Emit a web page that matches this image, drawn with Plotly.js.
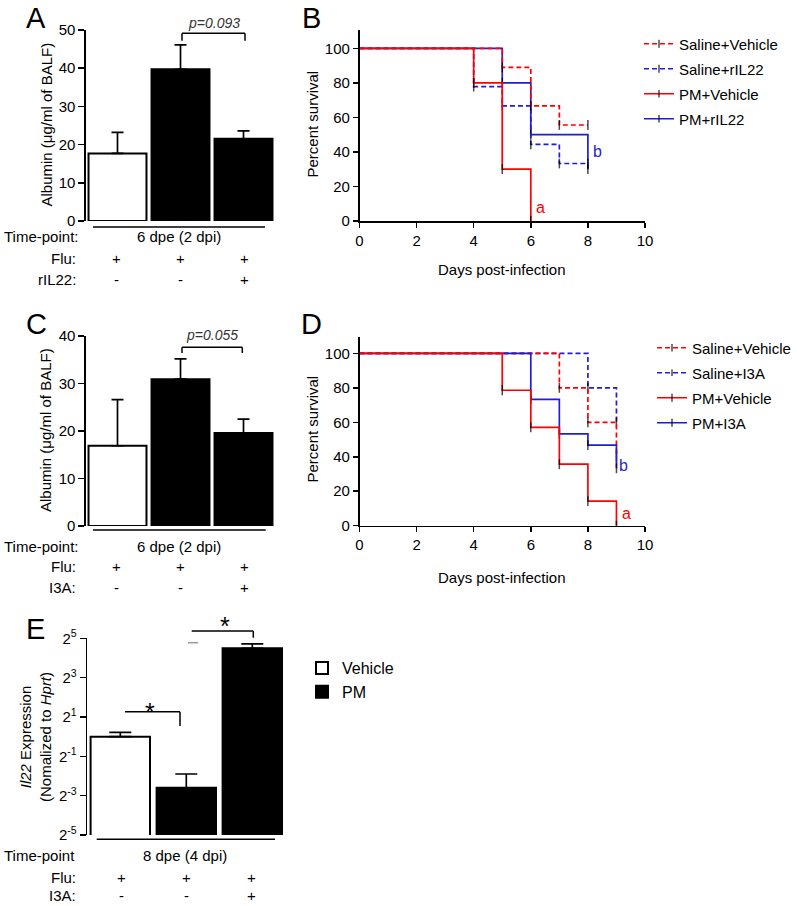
<!DOCTYPE html>
<html><head><meta charset="utf-8">
<script src="https://cdn.plot.ly/plotly-3.0.1.min.js"></script>
<style>html,body{margin:0;padding:0;background:#fff}#chart{width:797px;height:906px}</style>
</head><body><div id="chart"></div>
<script>
// ---------- DATA ----------
const groups = ['Flu', 'Flu+PM', 'Flu+PM+Tx'];
const fillGroup = ['Vehicle', 'PM', 'PM'];

// Panel A: albumin (µg/ml of BALF)
const albuminA = [17.7, 39.7, 21.5];
const albuminAErr = [5.5, 6.4, 2.1];
// Panel C
const albuminC = [16.9, 30.9, 19.6];
const albuminCErr = [9.7, 4.3, 2.9];
// Panel E: Il22 expression
const il22E = [1.0, 0.165, 22.5];
const il22EErr = [0.165, 0.103, 3.7];

// Panel B survival
const bSalVehDays = [0, 5, 6, 7, 8];       const bSalVehSurv = [100, 88.9, 66.7, 55.6, 55.6];
const bSalIlDays  = [0, 4, 5, 6, 7, 8];    const bSalIlSurv  = [100, 77.8, 66.7, 44.4, 33.3, 33.3];
const bPmVehDays  = [0, 4, 5, 6];          const bPmVehSurv  = [100, 80, 30, 0];
const bPmIlDays   = [0, 5, 6, 8];          const bPmIlSurv   = [100, 80, 50, 30];
// Panel D survival
const dSalVehDays = [0, 7, 8, 9];          const dSalVehSurv = [100, 80, 60, 40];
const dSalI3Days  = [0, 8, 9];             const dSalI3Surv  = [100, 80, 60];
const dPmVehDays  = [0, 5, 6, 7, 8, 9];    const dPmVehSurv  = [100, 78.6, 57.1, 35.7, 14.3, 0];
const dPmI3Days   = [0, 6, 7, 8, 9];       const dPmI3Surv   = [100, 73.3, 53.3, 46.7, 33.3];

const survivalTicks = [0, 20, 40, 60, 80, 100];
const dayTicks = [0, 2, 4, 6, 8, 10];
const log2Ticks = [-5, -3, -1, 1, 3, 5];

// ---------- HELPERS ----------
const W = 797, H = 906;
const X = p => p / W, Y = p => 1 - p / H;
const RED = '#ff0000', BLUE = '#1f1fd0';
const FONT = 'Liberation Sans, Arial, sans-serif';

function barPair(vals, errs, xa, ya, legendName, showLeg, width, capW) {
  const out = [];
  ['Vehicle', 'PM'].forEach(g => {
    const xs = [], ys = [], es = [];
    groups.forEach((c, i) => { if (fillGroup[i] === g) { xs.push(c); ys.push(vals[i]); es.push(errs[i]); } });
    out.push({
      type: 'bar', name: g, x: xs, y: ys, xaxis: xa, yaxis: ya, width: width,
      marker: { color: g === 'Vehicle' ? '#ffffff' : '#000000', line: { color: '#000', width: 2 } },
      error_y: { type: 'data', symmetric: false, array: es, arrayminus: es.map(() => 0), color: '#000', thickness: 1.7, width: capW },
      showlegend: showLeg, legend: legendName, hoverinfo: 'skip'
    });
  });
  return out;
}

function surv(name, xs, ys, color, dash, xa, ya, leg, grp, rank) {
  return {
    type: 'scatter', mode: 'lines+markers', name: name, x: xs, y: ys, xaxis: xa, yaxis: ya,
    line: { color: color, width: 1.7, dash: dash, shape: 'hv' },
    marker: { symbol: 'line-ns', size: xs.map((v, i) => i === 0 ? 0 : 7), color: '#000', line: { color: '#000', width: 1.5 } },
    legend: leg, legendgroup: grp, legendrank: rank, hoverinfo: 'skip'
  };
}

const DASH = '5px,3px';
const traces = [
  ...barPair(albuminA, albuminAErr, 'x', 'y', 'legend3', false, 0.92, 6),
  ...barPair(albuminC, albuminCErr, 'x3', 'y3', 'legend3', false, 0.92, 6),
  ...barPair(il22E, il22EErr, 'x5', 'y5', 'legend3', true, 0.9, 11),
  // panel B (drawing order bottom -> top)
  surv('PM+rIL22', bPmIlDays, bPmIlSurv, BLUE, 'solid', 'x2', 'y2', 'legend', 'b4', 4),
  surv('Saline+rIL22', bSalIlDays, bSalIlSurv, BLUE, DASH, 'x2', 'y2', 'legend', 'b2', 2),
  surv('Saline+Vehicle', bSalVehDays, bSalVehSurv, RED, DASH, 'x2', 'y2', 'legend', 'b1', 1),
  surv('PM+Vehicle', bPmVehDays, bPmVehSurv, RED, 'solid', 'x2', 'y2', 'legend', 'b3', 3),
  // panel D
  surv('Saline+I3A', dSalI3Days, dSalI3Surv, BLUE, DASH, 'x4', 'y4', 'legend2', 'd2', 2),
  surv('Saline+Vehicle', dSalVehDays, dSalVehSurv, RED, DASH, 'x4', 'y4', 'legend2', 'd1', 1),
  surv('PM+I3A', dPmI3Days, dPmI3Surv, BLUE, 'solid', 'x4', 'y4', 'legend2', 'd4', 4),
  surv('PM+Vehicle', dPmVehDays, dPmVehSurv, RED, 'solid', 'x4', 'y4', 'legend2', 'd3', 3)
];

const axBase = {
  showgrid: false, zeroline: false, showline: true, linecolor: '#000', linewidth: 1.6,
  ticks: 'outside', ticklen: 6, tickwidth: 1.5, tickcolor: '#000',
  tickfont: { size: 15, color: '#000', family: FONT }, fixedrange: true
};
const catAx = (dom, anchor) => ({ domain: dom, anchor: anchor, type: 'category', categoryorder: 'array', categoryarray: groups, range: [-0.5, 2.5], visible: false, fixedrange: true });

const layout = {
  width: W, height: H, margin: { l: 0, r: 0, t: 0, b: 0 },
  paper_bgcolor: '#fff', plot_bgcolor: 'rgba(0,0,0,0)',
  font: { family: FONT, size: 15, color: '#000' },
  barmode: 'overlay',
  xaxis: catAx([X(86), X(275)], 'y'),
  yaxis: Object.assign({}, axBase, { domain: [Y(221), Y(30)], anchor: 'x', range: [0, 50], dtick: 10 }),
  xaxis3: catAx([X(86), X(275)], 'y3'),
  yaxis3: Object.assign({}, axBase, { domain: [Y(526), Y(336)], anchor: 'x3', range: [0, 40], dtick: 10 }),
  xaxis2: Object.assign({}, axBase, { domain: [X(359.5), X(645)], anchor: 'y2', range: [0, 10], tickvals: dayTicks, ticklen: 5 }),
  yaxis2: Object.assign({}, axBase, { domain: [Y(221), Y(30)], anchor: 'x2', range: [0, 110.6], tickvals: survivalTicks, ticklen: 5 }),
  xaxis4: Object.assign({}, axBase, { domain: [X(359.5), X(645)], anchor: 'y4', range: [0, 10], tickvals: dayTicks, ticklen: 5 }),
  yaxis4: Object.assign({}, axBase, { domain: [Y(525.7), Y(337)], anchor: 'x4', range: [0, 109.5], tickvals: survivalTicks, ticklen: 5 }),
  xaxis5: catAx([X(87.3), X(285.3)], 'y5'),
  yaxis5: Object.assign({}, axBase, {
    domain: [Y(835), Y(638.3)], anchor: 'x5', type: 'log',
    range: [Math.log10(Math.pow(2, -5)), Math.log10(Math.pow(2, 5))],
    tickvals: log2Ticks.map(k => Math.pow(2, k)), ticktext: log2Ticks.map(k => '2<sup>' + k + '</sup>')
  }),
  legend: { x: X(639), y: Y(27.5), xanchor: 'left', yanchor: 'top', font: { size: 15 }, bgcolor: 'rgba(0,0,0,0)', traceorder: 'grouped', tracegroupgap: 2.5 },
  legend2: { x: X(652), y: Y(331.5), xanchor: 'left', yanchor: 'top', font: { size: 15 }, bgcolor: 'rgba(0,0,0,0)', traceorder: 'grouped', tracegroupgap: 2.5 },
  legend3: { x: X(302), y: Y(651), xanchor: 'left', yanchor: 'top', font: { size: 16 }, bgcolor: 'rgba(0,0,0,0)' },
  annotations: [],
  shapes: []
};

function ann(text, x, y, o) {
  layout.annotations.push(Object.assign({ text: text, x: X(x), y: Y(y), xref: 'paper', yref: 'paper', showarrow: false, xanchor: 'center', yanchor: 'middle', font: { size: 15, color: '#000', family: FONT } }, o || {}));
}
function seg(x0, y0, x1, y1, color) {
  layout.shapes.push({ type: 'line', xref: 'paper', yref: 'paper', x0: X(x0), y0: Y(y0), x1: X(x1), y1: Y(y1), line: { color: color || '#000', width: 1.5 } });
}

// panel letters
[['A', 36, 0], ['B', 311, 0], ['C', 36, 306], ['D', 311, 306], ['E', 35, 611]].forEach(a => ann(a[0], a[1], a[2], { yanchor: 'top', font: { size: 29, family: FONT } }));

// axis titles
ann('Albumin (μg/ml of BALF)', 45.5, 125, { textangle: -90 });
ann('Albumin (μg/ml of BALF)', 45, 430, { textangle: -90 });
ann('Percent survival', 311.5, 124, { textangle: -90 });
ann('Percent survival', 311.5, 429, { textangle: -90 });
ann('Days post-infection', 502, 269, {});
ann('Days post-infection', 502, 577, {});
ann('<i>Il22</i> Expression<br>(Nomalized to <i>Hprt</i>)', 35, 737, { textangle: -90 });

// p-values and brackets
ann('<i>p=0.093</i>', 214, 23, { font: { size: 14, color: '#333', family: FONT } });
seg(182, 33.3, 245, 33.3); seg(182, 33.3, 182, 40.7); seg(245, 33.3, 245, 40.7);
ann('<i>p=0.055</i>', 212, 335, { font: { size: 14, color: '#333', family: FONT } });
seg(182, 347.3, 242.3, 347.3); seg(182, 347.3, 182, 353); seg(242.3, 347.3, 242.3, 353);
seg(125, 711.7, 180, 711.7); seg(180, 711.7, 180, 726);
ann('*', 150, 712, { font: { size: 25, family: FONT } });
seg(191.7, 631, 253.3, 631); seg(253.3, 631, 253.3, 637.7);
seg(188, 642.7, 198, 642.7, '#999');
ann('*', 225, 626, { font: { size: 25, family: FONT } });

// survival significance letters
layout.annotations.push({ text: 'a', x: 6.35, y: 8, xref: 'x2', yref: 'y2', showarrow: false, font: { size: 16, color: RED, family: FONT } });
layout.annotations.push({ text: 'b', x: 8.33, y: 40, xref: 'x2', yref: 'y2', showarrow: false, font: { size: 16, color: BLUE, family: FONT } });
layout.annotations.push({ text: 'a', x: 9.34, y: 7, xref: 'x4', yref: 'y4', showarrow: false, font: { size: 16, color: RED, family: FONT } });
layout.annotations.push({ text: 'b', x: 9.24, y: 35, xref: 'x4', yref: 'y4', showarrow: false, font: { size: 16, color: BLUE, family: FONT } });

// design rows under bar charts
const signX = [116, 180, 244];
function designBlock(lineY, tpY, tpLabel, tpText, rows, sx, lx0, lx1, tpCenter) {
  seg(lx0, lineY, lx1, lineY);
  ann(tpLabel, 2, tpY, { xanchor: 'left' });
  ann(tpText, tpCenter, tpY, {});
  rows.forEach(r => {
    ann(r.label, 78, r.y, { xanchor: 'right' });
    r.signs.forEach((s, i) => ann(s, sx[i], r.y, {}));
  });
}
designBlock(227, 236.5, 'Time-point:', '6 dpe (2 dpi)', [{ label: 'Flu:', y: 258, signs: ['+', '+', '+'] }, { label: 'rIL22:', y: 279, signs: ['-', '-', '+'] }], signX, 93, 265, 178.5);
designBlock(530, 546.7, 'Time-point:', '6 dpe (2 dpi)', [{ label: 'Flu:', y: 566.7, signs: ['+', '+', '+'] }, { label: 'I3A:', y: 587.3, signs: ['-', '-', '+'] }], signX, 93, 265.7, 178.5);
designBlock(839.3, 855, 'Time-point', '8 dpe (4 dpi)', [{ label: 'Flu:', y: 877.3, signs: ['+', '+', '+'] }, { label: 'I3A:', y: 895.7, signs: ['-', '-', '+'] }], [121.7, 186.7, 251.7], 96.7, 275, 185);

Plotly.newPlot('chart', traces, layout, { staticPlot: true, displayModeBar: false });
</script></body></html>
